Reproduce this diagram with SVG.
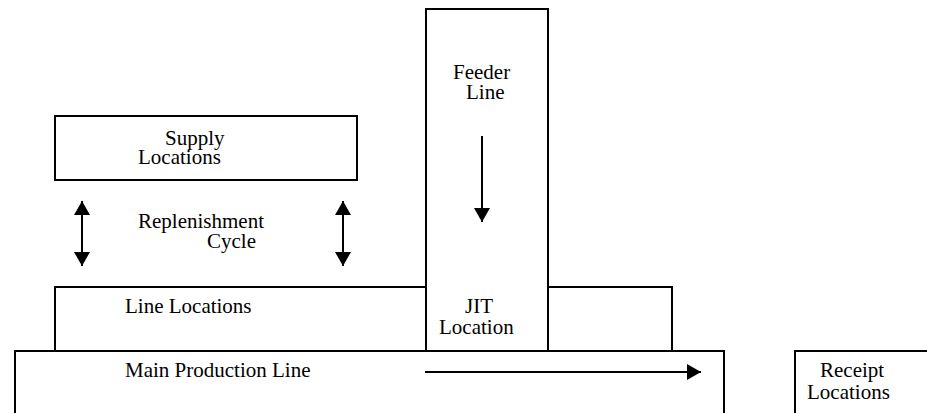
<svg xmlns="http://www.w3.org/2000/svg" width="927" height="413" viewBox="0 0 927 413">
  <style>
    .box { fill: #ffffff; stroke: #000000; stroke-width: 2; }
    .lbl { font-family: "Liberation Serif", "Times New Roman", serif; font-size: 21px; fill: #000000; }
    .flow { stroke: #000000; stroke-width: 2; fill: none; }
  </style>
  <defs>
    <marker id="head" markerUnits="userSpaceOnUse" markerWidth="14" markerHeight="16" refX="14" refY="8" orient="auto-start-reverse">
      <path d="M0,0 L14,8 L0,16 Z" fill="#000000"/>
    </marker>
  </defs>

  <rect width="927" height="413" fill="#ffffff"/>

  <!-- lower tiers drawn first so overlapping outlines stay visible -->
  <g id="main-production-line">
    <rect class="box" x="15" y="351" width="709" height="80"/>
    <text class="lbl" x="125" y="377">Main Production Line</text>
  </g>

  <g id="receipt-locations">
    <rect class="box" x="795" y="351" width="150" height="80"/>
    <text class="lbl"><tspan x="820" y="377">Receipt</tspan><tspan x="807" y="399">Locations</tspan></text>
  </g>

  <g id="line-locations">
    <rect class="box" x="55" y="287" width="617" height="64"/>
    <text class="lbl" x="125" y="313">Line Locations</text>
  </g>

  <g id="feeder-line">
    <rect class="box" x="426" y="9" width="122" height="342"/>
    <text class="lbl"><tspan x="453" y="79">Feeder</tspan><tspan x="466" y="99">Line</tspan></text>
  </g>

  <g id="jit-location">
    <text class="lbl"><tspan x="465" y="313">JIT</tspan><tspan x="439" y="334">Location</tspan></text>
  </g>

  <g id="supply-locations">
    <rect class="box" x="55" y="116" width="302" height="64"/>
    <text class="lbl"><tspan x="165" y="145">Supply</tspan><tspan x="138" y="164">Locations</tspan></text>
  </g>

  <g id="replenishment-cycle">
    <text class="lbl"><tspan x="138" y="228">Replenishment</tspan><tspan x="207" y="248">Cycle</tspan></text>
  </g>

  <g id="connectors">
    <line class="flow" x1="82" y1="201" x2="82" y2="266" marker-start="url(#head)" marker-end="url(#head)"/>
    <line class="flow" x1="343" y1="201" x2="343" y2="266" marker-start="url(#head)" marker-end="url(#head)"/>
    <line class="flow" x1="482" y1="136" x2="482" y2="222" marker-end="url(#head)"/>
    <line class="flow" x1="425" y1="372" x2="701" y2="372" marker-end="url(#head)"/>
  </g>
</svg>
